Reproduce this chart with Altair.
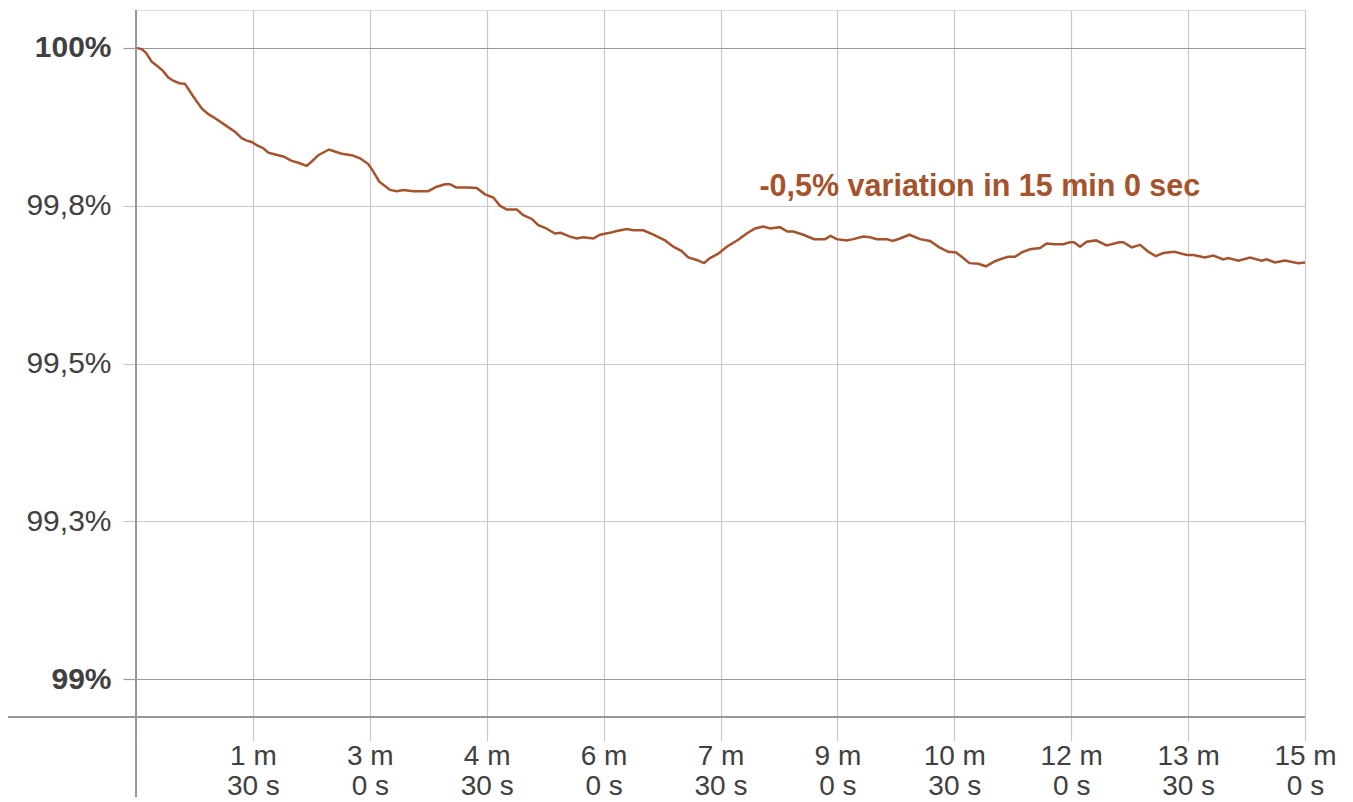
import altair as alt
import pandas as pd

# ---- data ----
seconds = [0.0, 4.4, 7.7, 12.1, 15.9, 20.6, 24.9, 28.7, 33.3, 37.7, 44.1, 50.6, 55.7, 62.1,
           69.8, 76.2, 81.4, 85.2, 89.1, 92.9, 98.0, 101.9, 105.7, 113.4, 119.9, 125.0, 131.4,
           135.3, 140.4, 148.6, 157.1, 159.6, 166.1, 172.5, 178.8, 182.7, 187.3, 195.6, 200.7,
           205.8, 213.5, 225.0, 231.5, 237.9, 241.7, 246.4, 252.0, 255.8, 262.3, 268.7, 275.1,
           280.2, 285.4, 293.1, 298.2, 304.7, 309.7, 314.9, 322.6, 327.0, 334.1, 339.3, 344.4,
           352.1, 357.2, 364.9, 370.1, 377.8, 382.9, 390.6, 398.3, 407.3, 413.7, 420.1, 425.2,
           431.7, 437.3, 441.9, 448.3, 454.8, 463.7, 470.2, 476.6, 483.0, 488.1, 495.8, 501.4,
           506.1, 513.8, 522.0, 530.5, 534.8, 539.5, 547.2, 552.2, 559.9, 565.1, 570.3, 578.0,
           582.6, 588.2, 595.4, 603.6, 611.3, 618.5, 625.4, 631.3, 635.7, 641.6, 648.5, 654.4,
           661.3, 666.5, 671.6, 676.7, 681.9, 688.3, 696.0, 701.1, 707.5, 713.9, 719.1, 722.2,
           726.8, 731.9, 739.1, 747.3, 757.0, 760.1, 766.6, 773.0, 779.4, 785.1, 790.9, 799.4,
           808.9, 814.0, 823.0, 829.4, 837.1, 841.0, 848.7, 857.7, 866.7, 870.5, 876.9, 884.6,
           894.8, 900.0]
percent = [100.000, 99.998, 99.992, 99.978, 99.972, 99.964, 99.953, 99.948, 99.944, 99.943,
           99.923, 99.904, 99.895, 99.887, 99.876, 99.867, 99.857, 99.853, 99.851, 99.846,
           99.841, 99.834, 99.832, 99.828, 99.821, 99.818, 99.813, 99.820, 99.830, 99.839,
           99.833, 99.832, 99.830, 99.825, 99.816, 99.804, 99.788, 99.775, 99.773, 99.775,
           99.773, 99.773, 99.780, 99.784, 99.784, 99.779, 99.779, 99.779, 99.778, 99.768,
           99.763, 99.750, 99.744, 99.744, 99.735, 99.729, 99.719, 99.715, 99.706, 99.707,
           99.701, 99.698, 99.700, 99.698, 99.704, 99.707, 99.710, 99.713, 99.711, 99.711,
           99.704, 99.695, 99.685, 99.678, 99.668, 99.664, 99.659, 99.667, 99.674, 99.685,
           99.696, 99.706, 99.714, 99.717, 99.714, 99.716, 99.709, 99.709, 99.704, 99.697,
           99.697, 99.702, 99.697, 99.695, 99.697, 99.701, 99.700, 99.697, 99.697, 99.694,
           99.698, 99.704, 99.697, 99.694, 99.684, 99.677, 99.676, 99.669, 99.659, 99.658,
           99.654, 99.662, 99.666, 99.669, 99.669, 99.676, 99.681, 99.683, 99.690, 99.689,
           99.689, 99.692, 99.692, 99.685, 99.693, 99.695, 99.687, 99.692, 99.692, 99.684,
           99.688, 99.677, 99.670, 99.675, 99.677, 99.672, 99.672, 99.668, 99.671, 99.665,
           99.667, 99.663, 99.668, 99.663, 99.665, 99.660, 99.663, 99.659, 99.660]

x_tick_values = [0, 90, 180, 270, 360, 450, 540, 630, 720, 810, 900]
x_tick_labels = ["", "1 m\n30 s", "3 m\n0 s", "4 m\n30 s", "6 m\n0 s", "7 m\n30 s",
                 "9 m\n0 s", "10 m\n30 s", "12 m\n0 s", "13 m\n30 s", "15 m\n0 s"]
y_tick_values = [99, 99.25, 99.5, 99.75, 100]
y_tick_labels = ["99%", "99,3%", "99,5%", "99,8%", "100%"]
y_strong_values = [99, 100]

annotation_text = ["-0,5% variation in 15 min 0 sec"]
annotation_x = [480]
annotation_y = [99.780]

x_domain = [0, 900]
y_domain = [98.94, 100.06]

LINE_COLOR = "#A5532D"
FONT = "Liberation Sans"

df = pd.DataFrame({"sec": seconds, "pct": percent})
ann = pd.DataFrame({"text": annotation_text, "sec": annotation_x, "pct": annotation_y})

# label expressions built from the lists
x_expr = ""
for v, lab in zip(x_tick_values, x_tick_labels):
    parts = ",".join("'" + p + "'" for p in lab.split("\n"))
    x_expr += f"abs(datum.value - {v}) < 0.001 ? [{parts}] : "
x_expr += "''"

y_expr = ""
for v, lab in zip(y_tick_values, y_tick_labels):
    y_expr += f"abs(datum.value - {v}) < 0.0001 ? '{lab}' : "
y_expr += "''"

strong_test = " || ".join(f"abs(datum.value - {v}) < 0.0001" for v in y_strong_values)

x_scale = alt.Scale(domain=x_domain, nice=False, zero=False)
y_scale = alt.Scale(domain=y_domain, nice=False, zero=False)

x_axis = alt.Axis(
    values=x_tick_values, labelExpr=x_expr, title=None,
    grid=True, gridColor="#c8c8c8", gridWidth=1.2,
    ticks=True, tickSize=24, tickColor="#c8c8c8", tickWidth=1.2,
    domain=False, labelFont=FONT, labelFontSize=28, labelColor="#404040",
    labelPadding=1, labelLineHeight=30, labelOverlap=False, labelBound=False,
    labelFlush=False, labelBaseline="top",
)
y_axis = alt.Axis(
    values=y_tick_values, labelExpr=y_expr, title=None,
    grid=True,
    gridColor={"condition": {"test": strong_test, "value": "#999999"}, "value": "#c8c8c8"},
    gridWidth=1.2,
    ticks=True, tickSize=13,
    tickColor={"condition": {"test": strong_test, "value": "#999999"}, "value": "#c8c8c8"},
    tickWidth=1.2,
    domain=False, labelFont=FONT, labelFontSize=30, labelColor="#404040",
    labelFontWeight={"condition": {"test": strong_test, "value": "bold"}, "value": "normal"},
    labelPadding=12, labelOverlap=False, labelBound=False, labelFlush=False,
)

line = alt.Chart(df).mark_line(color=LINE_COLOR, strokeWidth=2.5).encode(
    x=alt.X("sec:Q", scale=x_scale, axis=x_axis),
    y=alt.Y("pct:Q", scale=y_scale, axis=y_axis),
)

h_axis_line = alt.Chart(df).mark_rule(color="#999999", strokeWidth=1.4).encode(
    x=alt.value(-128), x2=alt.value(1169), y=alt.value(707)
)
v_axis_line = alt.Chart(df).mark_rule(color="#999999", strokeWidth=1.4).encode(
    x=alt.value(0), y=alt.value(0), y2=alt.value(787)
)

label = alt.Chart(ann).mark_text(
    align="left", baseline="middle", font=FONT, fontSize=30.5, fontWeight="bold",
    color=LINE_COLOR,
).encode(
    x=alt.X("sec:Q", scale=x_scale),
    y=alt.Y("pct:Q", scale=y_scale),
    text="text:N",
)

chart = alt.layer(line, h_axis_line, v_axis_line, label).properties(
    width=1169, height=707,
    autosize=alt.AutoSizeParams(type="none"),
    padding={"left": 128, "top": 2, "right": 38, "bottom": 82},
).configure_view(stroke=None).configure(background="white")

chart.save("out.html", embed_options={"renderer": "svg", "actions": False})
